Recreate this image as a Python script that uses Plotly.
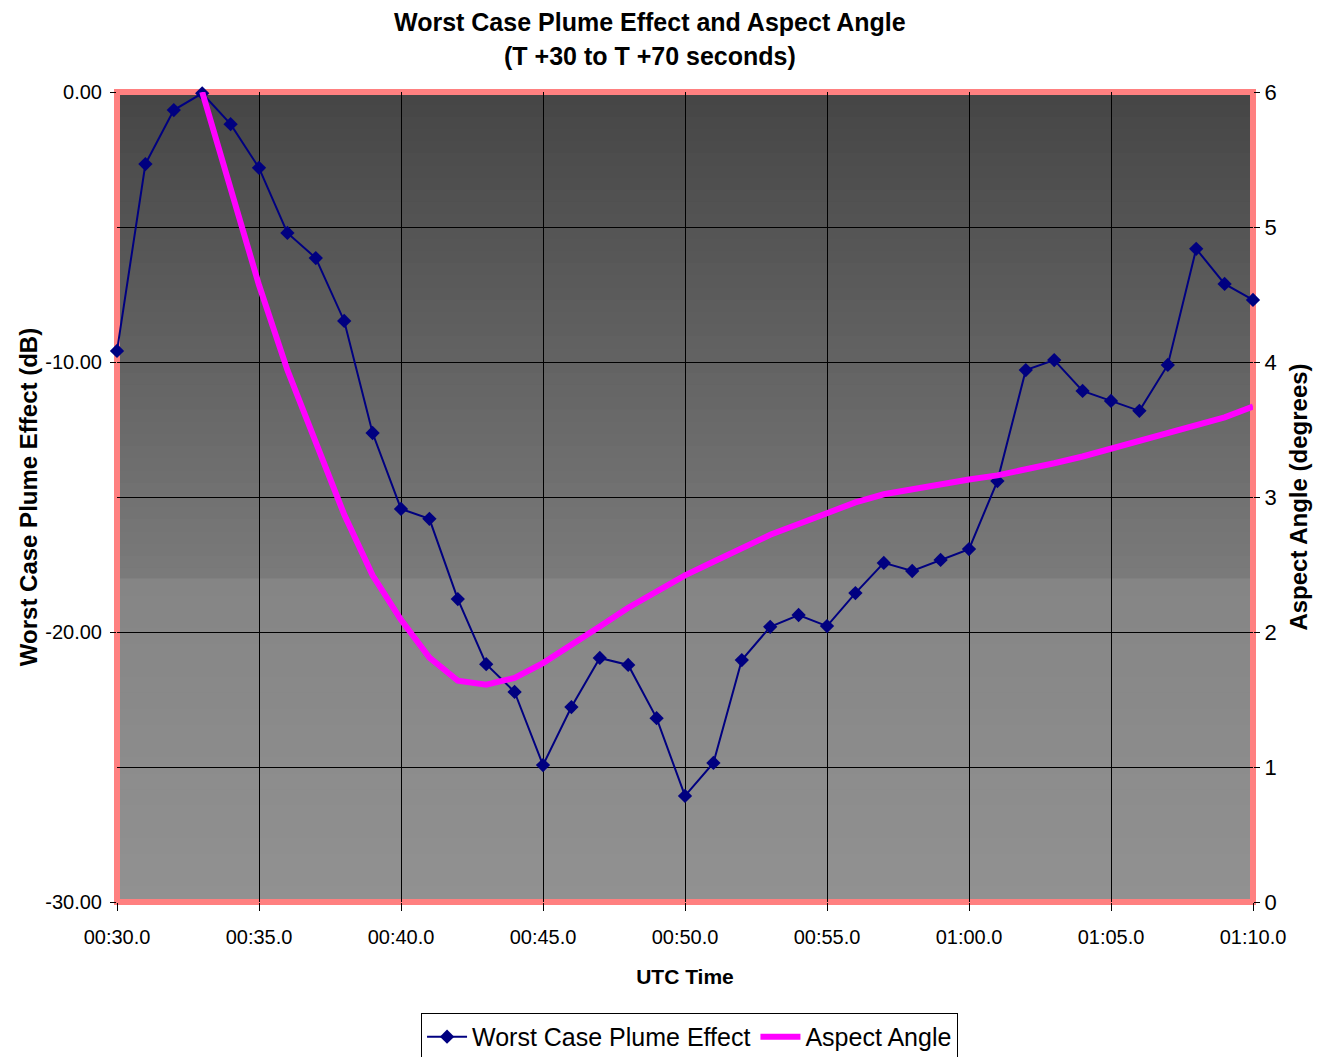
import plotly.graph_objects as go

seconds = list(range(30, 71))
plume_db = [-9.59, -2.67, -0.67, -0.05, -1.19, -2.81, -5.22, -6.15, -8.48, -12.63,
            -15.44, -15.81, -18.78, -21.19, -22.22, -24.93, -22.78, -20.96, -21.22, -23.19,
            -26.07, -24.85, -21.04, -19.81, -19.37, -19.78, -18.56, -17.44, -17.74, -17.33,
            -16.93, -14.41, -10.30, -9.93, -11.07, -11.44, -11.81, -10.11, -5.81, -7.11,
            -7.70]
aspect_deg = [None, None, None, 6.0, 5.27, 4.57, 3.94, 3.39, 2.87, 2.42,
              2.09, 1.81, 1.64, 1.61, 1.66, 1.77, 1.90, 2.04, 2.18, 2.30,
              2.42, 2.52, 2.62, 2.72, 2.80, 2.88, 2.96, 3.02, 3.06, 3.10,
              3.13, 3.16, 3.20, 3.25, 3.30, 3.36, 3.41, 3.47, 3.53, 3.59,
              3.67]
x_tickvals = [30, 35, 40, 45, 50, 55, 60, 65, 70]
x_ticktext = ["00:30.0", "00:35.0", "00:40.0", "00:45.0", "00:50.0",
              "00:55.0", "01:00.0", "01:05.0", "01:10.0"]
left_ticks = [0, -10, -20, -30]
left_ticktext = ["0.00", "-10.00", "-20.00", "-30.00"]
title_lines = ["Worst Case Plume Effect and Aspect Angle", "(T +30 to T +70 seconds)"]

FONT = "Liberation Sans, Arial, sans-serif"

fig = go.Figure()
fig.add_trace(go.Scatter(
    x=seconds, y=plume_db, name="Worst Case Plume Effect",
    mode="lines+markers",
    line=dict(color="#000080", width=2),
    marker=dict(symbol="diamond", size=11, color="#000080"),
    yaxis="y", cliponaxis=False))
fig.add_trace(go.Scatter(
    x=seconds, y=aspect_deg, name="Aspect Angle",
    mode="lines", line=dict(color="#ff00ff", width=6),
    yaxis="y2", cliponaxis=False))

# background gradient (dark top, lighter below with a step)
shapes = []
n = 40
top_frac = (902 - 580) / 810.0
for i in range(n):
    y0 = top_frac + (1 - top_frac) * i / n
    y1 = top_frac + (1 - top_frac) * (i + 1) / n
    t = i / (n - 1)
    v = int(round(0x7a + (0x46 - 0x7a) * t))
    shapes.append(dict(type="rect", xref="x domain", yref="y domain",
                       x0=0, x1=1, y0=y0, y1=y1 + 0.002,
                       fillcolor=f"rgb({v},{v},{v})", line=dict(width=0), layer="below"))
m = 20
for i in range(m):
    y0 = top_frac * i / m
    y1 = top_frac * (i + 1) / m
    t = i / (m - 1)
    v = int(round(0x91 + (0x85 - 0x91) * t))
    shapes.append(dict(type="rect", xref="x domain", yref="y domain",
                       x0=0, x1=1, y0=y0, y1=y1 + 0.002,
                       fillcolor=f"rgb({v},{v},{v})", line=dict(width=0), layer="below"))
shapes.append(dict(type="rect", xref="x domain", yref="y domain",
                   x0=0, x1=1, y0=0, y1=1,
                   line=dict(color="#ff8080", width=6), fillcolor="rgba(0,0,0,0)",
                   layer="below"))

annotations = [
    dict(text=f"<b>{title_lines[0]}</b>", xref="paper", yref="paper",
         x=0.469, y=1 + 70 / 810, xanchor="center", yanchor="middle",
         showarrow=False, borderpad=0,
         font=dict(size=25, family=FONT, color="black")),
    dict(text=f"<b>{title_lines[1]}</b>", xref="paper", yref="paper",
         x=0.469, y=1 + 36 / 810, xanchor="center", yanchor="middle",
         showarrow=False, borderpad=0,
         font=dict(size=25, family=FONT, color="black")),
]

fig.update_layout(
    width=1325, height=1049,
    margin=dict(l=109, r=80, t=84, b=155, autoexpand=False),
    paper_bgcolor="white", plot_bgcolor="rgba(0,0,0,0)",
    font=dict(family=FONT, color="black", size=20),
    shapes=shapes,
    annotations=annotations,
    showlegend=True,
    legend=dict(orientation="h", x=0.504, xanchor="center", y=-0.137, yanchor="top",
                bordercolor="black", borderwidth=1, bgcolor="white",
                font=dict(size=25, family=FONT), itemwidth=40, tracegroupgap=0),
    xaxis=dict(range=[30, 70], tickvals=x_tickvals, ticktext=x_ticktext,
               showgrid=True, gridcolor="black", gridwidth=1,
               ticks="outside", ticklen=8, tickcolor="black",
               zeroline=False, showline=False, automargin=False,
               tickfont=dict(size=20), ticklabelstandoff=9,
               title=dict(text="<b>UTC Time</b>", font=dict(size=21), standoff=22)),
    yaxis=dict(range=[-30, 0], tickvals=left_ticks, ticktext=left_ticktext,
               showgrid=False, zeroline=False, showline=False, automargin=False,
               ticks="outside", ticklen=6, tickcolor="black",
               tickfont=dict(size=20), ticklabelstandoff=4,
               title=dict(text="<b>Worst Case Plume Effect (dB)</b>", font=dict(size=24), standoff=0)),
    yaxis2=dict(range=[0, 6], dtick=1, overlaying="y", side="right",
                showgrid=True, gridcolor="black", gridwidth=1,
                zeroline=False, showline=False, automargin=False,
                ticks="outside", ticklen=6, tickcolor="black",
                tickfont=dict(size=22),
                title=dict(text="<b>Aspect Angle (degrees)</b>", font=dict(size=24), standoff=14)),
)

fig.write_html("out.html")
